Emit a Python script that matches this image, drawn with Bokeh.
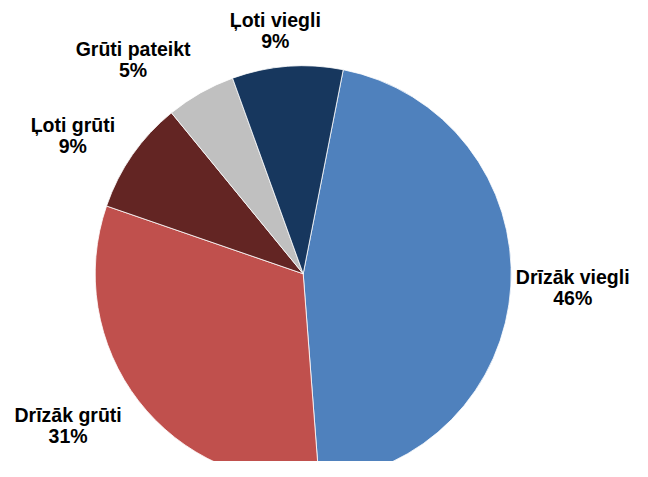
import math
from bokeh.plotting import figure
from bokeh.models import ColumnDataSource, Range1d
from bokeh.core.properties import value
from bokeh.embed import file_html
from bokeh.resources import INLINE

# ---- data (clockwise from the top, first slice starts just right of 12 o'clock)
categories = ["Drīzāk viegli", "Drīzāk grūti", "Ļoti grūti", "Grūti pateikt", "Ļoti viegli"]
shares = [45.7, 31.5, 8.8, 5.4, 8.6]
pct_labels = ["46%", "31%", "9%", "5%", "9%"]
colors = ["#4F81BD", "#C0504D", "#632523", "#C0C0C0", "#17375E"]

W, H = 632, 461
FONT = "Liberation Sans"
FS = 19.5
START_DEG = 11.1           # clockwise from top
CX, CY, R = 302.7, H - 273.3, 208.0
GAP = 20.0
LIFT = 8.0
NUDGE = {"Grūti pateikt": (-25.0, -2.0), "Drīzāk viegli": (-15.0, 0.0),
         "Ļoti viegli": (-7.0, -3.0), "Ļoti grūti": (-1.0, -5.0),
         "Drīzāk grūti": (-1.0, 0.0)}

# approximate Arial Bold advance widths (per 1000 em)
AW = {'D': 722, 'r': 389, 'ī': 278, 'z': 500, 'ā': 556, 'k': 556, ' ': 278, 'v': 556,
      'i': 278, 'e': 556, 'g': 611, 'l': 278, 'ū': 611, 't': 333, 'Ļ': 611, 'o': 611,
      'G': 778, 'p': 611, 'a': 556, '%': 889}
def tw(s):
    return sum(AW.get(c, 556) for c in s) * FS / 1000.0

total = sum(shares)
starts, ends = [], []
t = START_DEG
mids = []
for v in shares:
    a0 = t
    a1 = t + v / total * 360.0
    starts.append(math.radians(90 - a0))
    ends.append(math.radians(90 - a1))
    mids.append((a0 + a1) / 2)
    t = a1

src = ColumnDataSource(dict(cat=categories, start=starts, end=ends, color=colors))

p = figure(width=W, height=H, output_backend="svg", toolbar_location=None,
           x_range=Range1d(0, W), y_range=Range1d(0, H), min_border=0,
           frame_width=W, frame_height=H)
p.axis.visible = False
p.grid.visible = False
p.outline_line_color = None
p.background_fill_color = "white"
p.border_fill_color = "white"

p.wedge(x=CX, y=CY, radius=R, start_angle="start", end_angle="end",
        direction="clock", fill_color="color", line_color="white",
        line_width=0.8, source=src)

l1x, l1y, l2x, l2y, t1, t2 = [], [], [], [], [], []
for cat, pl, m in zip(categories, pct_labels, mids):
    dx = math.sin(math.radians(m))
    dy = math.cos(math.radians(m))      # data y is up
    n = max(abs(dx), abs(dy))
    hw = max(tw(cat), tw(pl)) / 2
    hh = 17.5
    cx = CX + (R + GAP) * dx + hw * dx / n
    cy = CY + (R + GAP) * dy + hh * dy / n + LIFT
    nx, ny = NUDGE.get(cat, (0.0, 0.0))
    cx += nx
    cy += ny
    l1x.append(cx); l1y.append(cy + 3.5); t1.append(cat)
    l2x.append(cx); l2y.append(cy - 17.5); t2.append(pl)

lab = ColumnDataSource(dict(x1=l1x, y1=l1y, t1=t1, x2=l2x, y2=l2y, t2=t2))
for xs, ys, ts in (("x1", "y1", "t1"), ("x2", "y2", "t2")):
    p.text(x=xs, y=ys, text=ts, source=lab, text_font=value(FONT),
           text_font_style="bold", text_font_size=f"{FS}px", text_color="#000000",
           text_align="center", text_baseline="alphabetic")

open("out.html", "w").write(file_html(p, INLINE))
